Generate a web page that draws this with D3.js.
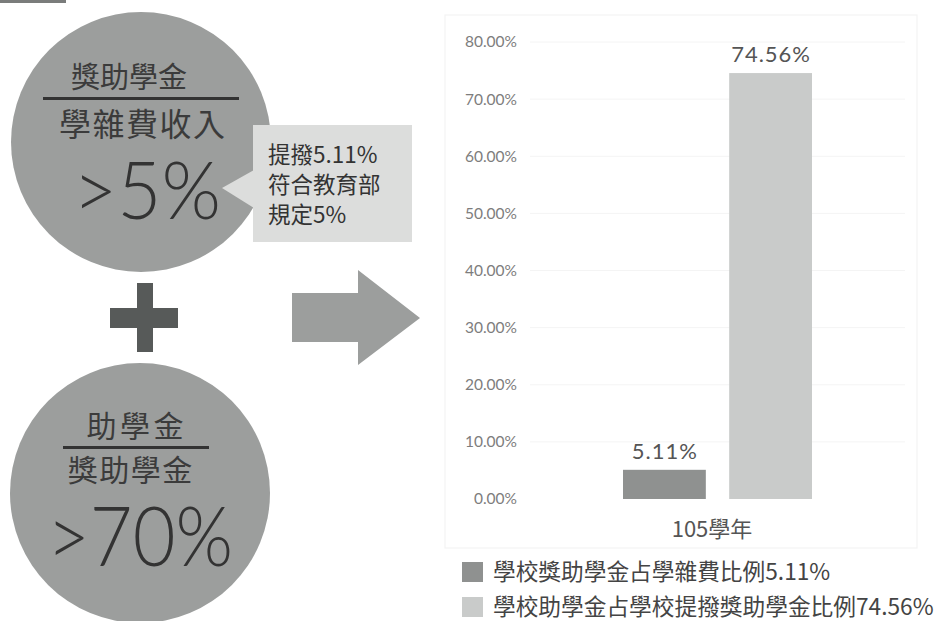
<!DOCTYPE html>
<html><head><meta charset="utf-8">
<script src="https://cdn.jsdelivr.net/npm/d3@7"></script>
<style>
html,body{margin:0;padding:0;background:#fff;}
svg{display:block;}
</style></head>
<body>
<svg id="c" width="939" height="621"></svg>
<script>
// ---- data ----
const categories = ["105學年"];
const seriesNames = ["學校獎助學金占學雜費比例5.11%", "學校助學金占學校提撥獎助學金比例74.56%"];
const seriesValues = [5.11, 74.56];
const valueLabels = ["5.11%", "74.56%"];
const yTicks = [0, 10, 20, 30, 40, 50, 60, 70, 80];
const circle1Lines = ["獎助學金", "學雜費收入", ">5%"];
const circle2Lines = ["助學金", "獎助學金", ">70%"];
const calloutLines = ["提撥5.11%", "符合教育部", "規定5%"];

const svg = d3.select("#c");
const CJK = "'Noto Sans CJK TC','Noto Sans CJK SC',sans-serif";
const NUM = "Lato,'Open Sans',sans-serif";
const circleFill = "#9c9e9d";
const textDark = "#3b3b3b";

function ctext(g, s, x, yb, size, ls, fam, extra) {
  const t = g.append("text").attr("x", x + ls/2).attr("y", yb).attr("text-anchor","middle")
    .attr("font-family", fam).attr("font-size", size).attr("letter-spacing", ls)
    .attr("fill", textDark).text(s);
  return t;
}

// top strip
svg.append("rect").attr("x",0).attr("y",0).attr("width",66).attr("height",3).attr("fill","#7a7c7b");

// ---- circle 1 ----
const g1 = svg.append("g");
g1.append("circle").attr("cx",141).attr("cy",142).attr("r",130).attr("fill",circleFill);
ctext(g1, circle1Lines[0], 129, 88, 29, 0, CJK);
g1.append("rect").attr("x",43).attr("y",97).attr("width",196).attr("height",3).attr("fill","#333");
ctext(g1, circle1Lines[1], 142, 136, 32, 1.5, CJK);
g1.append("text").attr("x",147).attr("y",219).attr("text-anchor","middle")
  .attr("font-family",NUM).attr("font-weight",300).attr("font-size",80).attr("fill","#333")
  .attr("textLength",148).attr("lengthAdjust","spacingAndGlyphs").text(circle1Lines[2]);

// callout
const cg = svg.append("g");
cg.append("path").attr("d","M222,188 L254,170 L254,208 Z").attr("fill","#dcdddc");
cg.append("rect").attr("x",253).attr("y",125).attr("width",159).attr("height",117).attr("fill","#dcdddc");
calloutLines.forEach((t,i)=>{
  cg.append("text").attr("x",268).attr("y",163+i*30)
    .attr("font-family",CJK).attr("font-size",22.5).attr("fill","#333").text(t);
});

// plus sign
svg.append("rect").attr("x",137).attr("y",283).attr("width",16).attr("height",69).attr("fill","#575a59");
svg.append("rect").attr("x",110).attr("y",308).attr("width",68).attr("height",20).attr("fill","#575a59");

// ---- circle 2 ----
const g2 = svg.append("g");
g2.append("circle").attr("cx",140).attr("cy",493).attr("r",130).attr("fill",circleFill);
ctext(g2, circle2Lines[0], 135, 437, 30, 3.5, CJK);
g2.append("rect").attr("x",63).attr("y",446).attr("width",146).attr("height",3).attr("fill","#333");
ctext(g2, circle2Lines[1], 130, 481, 30, 1.5, CJK);
g2.append("text").attr("x",140).attr("y",566).attr("text-anchor","middle")
  .attr("font-family",NUM).attr("font-weight",300).attr("font-size",82).attr("fill","#333")
  .attr("textLength",186).attr("lengthAdjust","spacingAndGlyphs").text(circle2Lines[2]);

// arrow
svg.append("path").attr("d","M292,293 L358,293 L358,270 L420,318 L358,365 L358,342 L292,342 Z").attr("fill","#9c9e9d");

// ---- bar chart ----
const plot = {left:445, right:917, top:15, bottom:548};
svg.append("rect").attr("x",plot.left).attr("y",plot.top)
  .attr("width",plot.right-plot.left).attr("height",plot.bottom-plot.top)
  .attr("fill","none").attr("stroke","#f3f3f3").attr("stroke-width",1.2);

const y = d3.scaleLinear().domain([0,80]).range([499,42]);
const x1 = d3.scaleBand().domain(seriesNames).range([623,812]).paddingInner(0.22).paddingOuter(0);
const colors = d3.scaleOrdinal().domain(seriesNames).range(["#8f9190","#c9cbca"]);

// gridlines
svg.append("g").selectAll("line").data(yTicks.slice(1)).join("line")
  .attr("x1",530).attr("x2",905).attr("y1",d=>y(d)).attr("y2",d=>y(d))
  .attr("stroke","#f4f4f4").attr("stroke-width",1);

// y axis
const yAxis = svg.append("g").attr("transform","translate(517,0)")
  .call(d3.axisLeft(y).tickValues(yTicks).tickSize(0).tickPadding(0).tickFormat(d=>d3.format(".2f")(d)+"%"));
yAxis.select(".domain").remove();
yAxis.selectAll("text").attr("font-family",NUM).attr("font-size",15.5).attr("fill","#7d7d7d");

// bars
svg.append("g").selectAll("rect").data(seriesValues).join("rect")
  .attr("x",(d,i)=>x1(seriesNames[i])).attr("width",x1.bandwidth())
  .attr("y",d=>y(d)).attr("height",d=>y(0)-y(d))
  .attr("fill",(d,i)=>colors(seriesNames[i]));

// value labels
svg.append("g").selectAll("text").data(seriesValues).join("text")
  .attr("x",(d,i)=>x1(seriesNames[i])+x1.bandwidth()/2+0.5).attr("y",d=>y(d)-11)
  .attr("text-anchor","middle").attr("font-family",NUM).attr("font-size",22).attr("letter-spacing",1)
  .attr("fill","#555").text((d,i)=>valueLabels[i]);

// x category label
svg.append("g").selectAll("text").data(categories).join("text")
  .attr("x",712).attr("y",537).attr("text-anchor","middle")
  .attr("font-family",CJK).attr("font-size",22).attr("fill","#555").text(d=>d);

// legend
const leg = svg.append("g").selectAll("g").data(seriesNames).join("g")
  .attr("transform",(d,i)=>`translate(462,${562+i*35})`);
leg.append("rect").attr("width",21).attr("height",20).attr("fill",d=>colors(d));
leg.append("text").attr("x",31).attr("y",18).attr("font-family",CJK).attr("font-size",22.7)
  .attr("fill","#444").text(d=>d);
</script>
</body></html>
